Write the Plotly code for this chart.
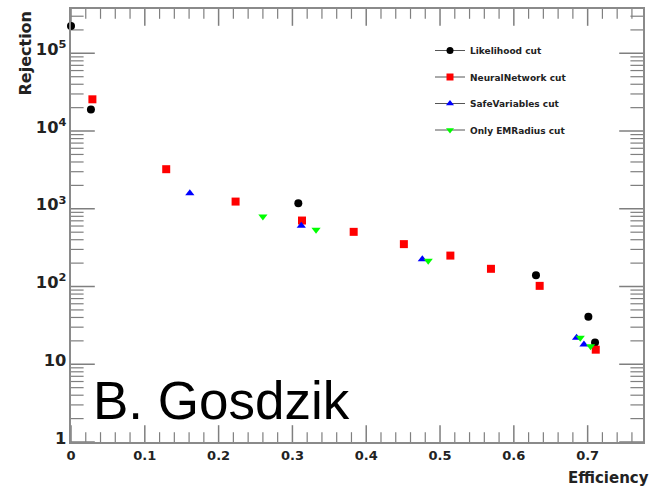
import numpy as np
import plotly.graph_objects as go

# ---- data ----
lik_eff = [0.0, 0.027, 0.308, 0.630, 0.701, 0.710]
lik_rej = [2.24e5, 1.9e4, 1180, 140, 41, 19]

nn_eff = [0.029, 0.129, 0.223, 0.313, 0.383, 0.451, 0.514, 0.569, 0.635, 0.711]
nn_rej = [2.56e4, 3230, 1238, 706, 505, 351, 250, 169, 102, 15.4]

safe_eff = [0.161, 0.312, 0.476, 0.685, 0.695]
safe_rej = [1585, 603, 225, 22, 18]

emr_eff = [0.260, 0.332, 0.484, 0.690, 0.704]
emr_rej = [794, 536, 214, 22, 17]

series_names = ["Likelihood cut", "NeuralNetwork cut", "SafeVariables cut", "Only EMRadius cut"]

W, H = 649, 487
ML, MR, MT, MB = 71, 6, 9, 45
PW, PH = W - ML - MR, H - MT - MB


def px(xp):
    return (xp - ML) / PW


def py(yp):
    return (H - MB - yp) / PH


AXC = "#8a8a8a"
TKC = "#7f7f7f"
BOLD = "DejaVu Sans"
XR = [0, 0.775]
YR = [0, 5.57]
YLO, YHI = 10 ** YR[0], 10 ** YR[1]

styles = [
    dict(color="#000000", symbol="circle", size=8),
    dict(color="#ff0000", symbol="square", size=8),
    dict(color="#0000ff", symbol="triangle-up", size=8),
    dict(color="#00ff00", symbol="triangle-down", size=8),
]
data = [(lik_eff, lik_rej), (nn_eff, nn_rej), (safe_eff, safe_rej), (emr_eff, emr_rej)]

fig = go.Figure()

# ---- frame ticks (ROOT style, inside on all four sides), drawn as clipped line markers ----
x_major = np.round(np.arange(0, 0.7001, 0.1), 3)
x_minor = np.array([v for v in np.round(np.arange(0, 0.775, 0.02), 3) if round(v * 10, 6) % 1 != 0])
y_major = 10.0 ** np.arange(0, 6)
y_minor = np.array([k * 10.0 ** n for n in range(0, 6) for k in range(2, 10) if k * 10.0 ** n < YHI])


def tick_trace(xs, ys, symbol, length, width):
    return go.Scatter(x=xs, y=ys, mode="markers", showlegend=False, hoverinfo="skip",
                      marker=dict(symbol=symbol, size=2 * length, color=TKC,
                                  line=dict(width=width, color=TKC)))


for yv in (YLO, YHI):
    fig.add_trace(tick_trace(x_major, [yv] * len(x_major), "line-ns", 12, 1.5))
    fig.add_trace(tick_trace(x_minor, [yv] * len(x_minor), "line-ns", 7, 1.2))
for xv in XR:
    fig.add_trace(tick_trace([xv] * len(y_major), y_major, "line-ew", 17, 1.5))
    fig.add_trace(tick_trace([xv] * len(y_minor), y_minor, "line-ew", 9, 1.2))

# ---- data ----
for (xs, ys), st, name in zip(data, styles, series_names):
    fig.add_trace(go.Scatter(
        x=xs, y=ys, mode="markers", name=name, showlegend=False,
        marker=dict(color=st["color"], symbol=st["symbol"], size=st["size"], line=dict(width=0)),
        cliponaxis=False,
    ))
# legend entries (line + marker, ROOT "lp" style)
for st, name in zip(styles, series_names):
    fig.add_trace(go.Scatter(
        x=[None], y=[None], mode="lines+markers", name=name, legendgroup=name,
        line=dict(color="#555555", width=1),
        marker=dict(color=st["color"], symbol=st["symbol"], size=st["size"] - 1, line=dict(width=0)),
    ))

fig.update_layout(
    width=W, height=H,
    margin=dict(l=ML, r=MR, t=MT, b=MB),
    paper_bgcolor="white", plot_bgcolor="white",
    showlegend=True,
    legend=dict(
        x=px(430), y=py(36), xanchor="left", yanchor="top",
        bgcolor="rgba(0,0,0,0)", borderwidth=0,
        font=dict(family=BOLD, size=9, color="#222222", weight="bold"),
        tracegroupgap=7.5,
    ),
    xaxis=dict(
        range=XR, showgrid=False, zeroline=False, automargin=False,
        showline=True, linecolor=AXC, linewidth=2, mirror=True,
        ticks="", dtick=0.1,
        tickfont=dict(family=BOLD, size=13, color="#222222", weight="bold"),
    ),
    yaxis=dict(
        type="log", range=YR, showgrid=False, zeroline=False, automargin=False,
        showline=True, linecolor=AXC, linewidth=2, mirror=True,
        ticks="", dtick=1, exponentformat="power",
        tickfont=dict(family=BOLD, size=13, color="#222222", weight="bold"),
        ticklabelshift=-4,
    ),
    annotations=[
        dict(text="Rejection", xref="paper", yref="paper", x=px(25), y=py(9),
             xanchor="center", yanchor="top", textangle=-90, showarrow=False,
             font=dict(family=BOLD, size=16, color="#222222", weight="bold")),
        dict(text="Efficiency", xref="paper", yref="paper", x=px(651), y=py(478),
             xanchor="right", yanchor="middle", showarrow=False,
             font=dict(family=BOLD, size=15, color="#222222", weight="bold")),
        dict(text="B. Gosdzik", xref="paper", yref="paper", x=px(91), y=py(400),
             xanchor="left", yanchor="middle", showarrow=False,
             font=dict(family="Liberation Sans", size=53, color="#000000")),
    ],
)

fig.write_html("out.html")
